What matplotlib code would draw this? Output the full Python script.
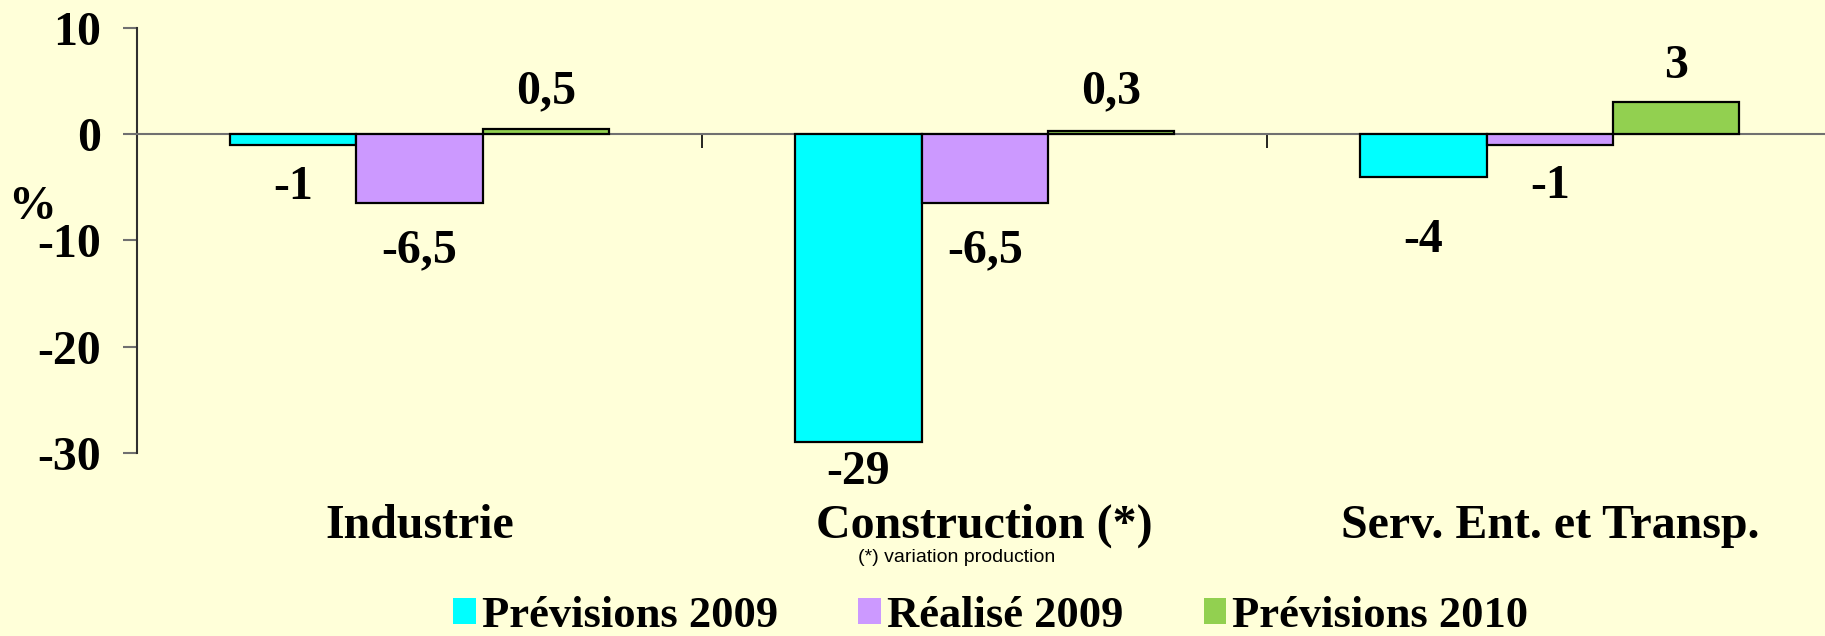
import numpy as np
import matplotlib.pyplot as plt

categories = ['Industrie', 'Construction (*)', 'Serv. Ent. et Transp.']
series = ['Prévisions 2009', 'Réalisé 2009', 'Prévisions 2010']
prev_2009 = [-1, -29, -4]
real_2009 = [-6.5, -6.5, -1]
prev_2010 = [0.5, 0.3, 3]
labels_2009p = ['-1', '-29', '-4']
labels_2009r = ['-6,5', '-6,5', '-1']
labels_2010p = ['0,5', '0,3', '3']
colors = ['#00FFFF', '#CC99FF', '#92D050']
bg = '#FFFFD9'

serif = ['Liberation Serif', 'DejaVu Serif']
fig = plt.figure(figsize=(18.25, 6.36), dpi=100, facecolor=bg)
ax = fig.add_axes([0.0751, 0.288, 0.929, 0.668], facecolor=bg)

x = np.arange(len(categories))
w = 0.2236
vals = [prev_2009, real_2009, prev_2010]
labs = [labels_2009p, labels_2009r, labels_2010p]
# label offsets (pixels) outside the bar ends
offs = [[42, 30, 63], [47, 47, 41], [38, 40, 36]]
for i in range(3):
    xs = x + (i - 1) * w
    ax.bar(xs, vals[i], width=w, color=colors[i], edgecolor='black',
           linewidth=1.6, label=series[i], zorder=3)
    for j in range(3):
        v = vals[i][j]
        d = offs[i][j] * 0.72
        ax.annotate(labs[i][j], (xs[j], v), xytext=(0, d if v > 0 else -d),
                    textcoords='offset points', ha='center', va='center',
                    fontsize=34.5, fontweight='bold', family=serif)

ax.set_xlim(-0.5, 2.5)
ax.set_ylim(-30, 10)
ax.set_yticks([10, 0, -10, -20, -30])
ax.set_yticklabels(['10', '0', '-10', '-20', '-30'], fontsize=34.5,
                   fontweight='bold', family=serif)
ax.tick_params(axis='y', length=10, width=1.5, color='#707070', pad=16)
ax.spines['top'].set_visible(False)
ax.spines['right'].set_visible(False)
ax.spines['left'].set_color('#303030')
ax.spines['left'].set_linewidth(1.5)
ax.spines['bottom'].set_position(('data', 0))
ax.spines['bottom'].set_color('#707070')
ax.spines['bottom'].set_linewidth(1.5)
ax.set_xticks([0.5, 1.5])
ax.set_xticklabels([])
ax.tick_params(axis='x', length=10, width=1.2, color='black')

for j, c in enumerate(categories):
    ax.annotate(c, (x[j], 0.173), xycoords=('data', 'figure fraction'),
                ha='center', va='center', fontsize=34.5, fontweight='bold',
                family=serif)
ax.annotate('(*) variation production', (x[1] - 0.049, 0.123),
            xycoords=('data', 'figure fraction'), ha='center', va='center',
            fontsize=14, family=['Liberation Sans', 'DejaVu Sans'])
fig.text(0.0175, 0.674, '%', ha='center', va='center', fontsize=34.5,
         fontweight='bold', family=serif)

leg = fig.legend(loc='center', bbox_to_anchor=(0.543, 0.032), ncol=3, frameon=False,
                 prop={'family': serif, 'weight': 'bold', 'size': 32},
                 handlelength=0.5, handleheight=0.5, handletextpad=0.15,
                 columnspacing=1.8, borderaxespad=0)
for h in leg.legend_handles:
    h.set_edgecolor('none')

fig.savefig('out.png', dpi=100, facecolor=bg)
